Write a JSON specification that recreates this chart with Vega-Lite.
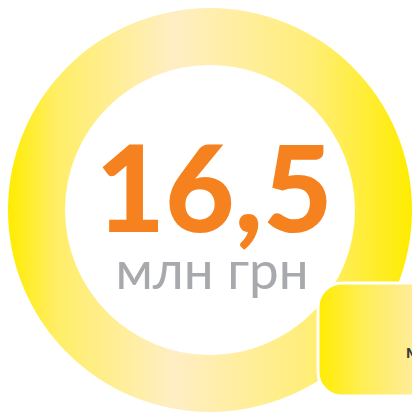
{
  "$schema": "https://vega.github.io/schema/vega-lite/v6.json",
  "width": 404,
  "height": 404,
  "autosize": {"type": "none"},
  "padding": {"left": 8, "top": 8, "right": 0, "bottom": 0},
  "background": "white",
  "config": {"view": {"stroke": null}},
  "layer": [
    {
      "data": {"values": [{"part": "ring", "v": 1}]},
      "mark": {
        "type": "arc",
        "radius": 202,
        "radius2": 145,
        "fill": {
          "gradient": "linear",
          "x1": 0, "y1": 0, "x2": 1, "y2": 0,
          "stops": [
            {"offset": 0, "color": "#FFEC00"},
            {"offset": 0.12, "color": "#FFEE66"},
            {"offset": 0.41, "color": "#FFEEC4"},
            {"offset": 0.75, "color": "#FFEE77"},
            {"offset": 1, "color": "#FFEC00"}
          ]
        }
      },
      "encoding": {"theta": {"field": "v", "type": "quantitative"}}
    },
    {
      "data": {"values": [{"x1": 318, "x2": 445, "y1": 283, "y2": 396}]},
      "mark": {
        "type": "rect",
        "cornerRadius": 24,
        "stroke": "white",
        "strokeWidth": 3,
        "fill": {
          "gradient": "linear",
          "x1": 0, "y1": 0, "x2": 1, "y2": 0,
          "stops": [
            {"offset": 0, "color": "#FFEC00"},
            {"offset": 0.35, "color": "#FFEE55"},
            {"offset": 0.75, "color": "#FFEC99"},
            {"offset": 1, "color": "#FFEEB0"}
          ]
        }
      },
      "encoding": {
        "x": {"field": "x1", "type": "quantitative", "scale": {"domain": [8, 412]}, "axis": null},
        "x2": {"field": "x2"},
        "y": {"field": "y1", "type": "quantitative", "scale": {"domain": [8, 412], "reverse": true}, "axis": null},
        "y2": {"field": "y2"}
      }
    },
    {
      "data": {"values": [
        {"label": "16,5", "x": 214, "y": 232}
      ]},
      "mark": {"type": "text", "font": "Lato", "fontWeight": 900, "fontSize": 120, "color": "#F5821F", "align": "center", "baseline": "alphabetic"},
      "encoding": {
        "x": {"field": "x", "type": "quantitative", "scale": {"domain": [8, 412]}, "axis": null},
        "y": {"field": "y", "type": "quantitative", "scale": {"domain": [8, 412], "reverse": true}, "axis": null},
        "text": {"field": "label"}
      }
    },
    {
      "data": {"values": [
        {"label": "млн грн", "x": 212, "y": 289}
      ]},
      "mark": {"type": "text", "font": "Lato", "fontSize": 53, "color": "#A7A9AC", "align": "center", "baseline": "alphabetic"},
      "encoding": {
        "x": {"field": "x", "type": "quantitative", "scale": {"domain": [8, 412]}, "axis": null},
        "y": {"field": "y", "type": "quantitative", "scale": {"domain": [8, 412], "reverse": true}, "axis": null},
        "text": {"field": "label"}
      }
    },
    {
      "data": {"values": [
        {"label": "млн", "x": 406, "y": 358}
      ]},
      "mark": {"type": "text", "font": "Lato", "fontWeight": "bold", "fontSize": 18, "color": "#3C3C3C", "align": "left", "baseline": "alphabetic"},
      "encoding": {
        "x": {"field": "x", "type": "quantitative", "scale": {"domain": [8, 412]}, "axis": null},
        "y": {"field": "y", "type": "quantitative", "scale": {"domain": [8, 412], "reverse": true}, "axis": null},
        "text": {"field": "label"}
      }
    }
  ]
}
